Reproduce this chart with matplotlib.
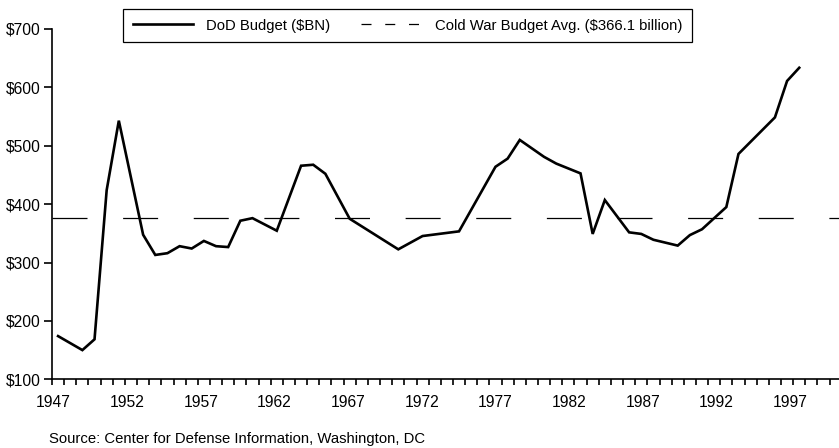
import matplotlib
matplotlib.use("Agg")
import matplotlib.pyplot as plt
from matplotlib.lines import Line2D
import numpy as np

# ---- data ----
point_index = [0, 2, 3, 4, 5, 7, 8, 9, 10, 11, 12, 13, 14, 15, 16, 18, 20, 21, 22, 24,
               28, 30, 33, 36, 37, 38, 40, 41, 43, 44, 45, 47, 48, 49, 51, 52, 53, 55,
               56, 59, 60, 61]
budget = [174, 150, 168.5, 424, 543, 347.6, 313, 316, 328, 324, 337, 328, 326.5, 371.6,
          376, 354.5, 465.8, 467.5, 452, 375, 322.6, 345.4, 353.4, 464, 478, 510, 481,
          469.5, 452.7, 349, 407, 351.7, 349, 339, 329, 347, 357, 395, 486, 548.6, 611,
          633.6]
cold_war_avg_line = 376.5
year_labels = [1947, 1952, 1957, 1962, 1967, 1972, 1977, 1982, 1987, 1992, 1997]
y_ticks = [100, 200, 300, 400, 500, 600, 700]
y_tick_labels = ["$100", "$200", "$300", "$400", "$500", "$600", "$700"]
legend_labels = ["DoD Budget ($BN)", "Cold War Budget Avg. ($366.1 billion)"]
source_text = "Source: Center for Defense Information, Washington, DC"

W, H = 839, 448
fig = plt.figure(figsize=(W / 100, H / 100), dpi=100)

# choose font size from the reference width of the source line (344 px), a bit enlarged
FAMILY = ['Liberation Sans', 'DejaVu Sans']
probe = fig.text(0, 0, source_text, family=FAMILY, size=10)
fig.canvas.draw()
wpx = probe.get_window_extent().width
probe.remove()
FS = 10 * 344.0 / wpx * 1.1
plt.rcParams['font.family'] = FAMILY
plt.rcParams['font.size'] = FS

left_px, right_px, top_px, bot_px = 52, 839, 29, 379.3
ax = fig.add_axes([left_px / W, 1 - bot_px / H, (right_px - left_px) / W, (bot_px - top_px) / H])

spacing = 12.15
xmin = -0.5
xmax = xmin + (right_px - left_px) / spacing
ax.set_xlim(xmin, xmax)
ax.set_ylim(100, 700)

ax.plot(point_index, budget, color='black', lw=1.9, solid_joinstyle='miter', zorder=3)
ax.plot([xmin, xmax], [cold_war_avg_line, cold_war_avg_line], color='black', lw=0.9,
        dashes=(28, 28.5), zorder=2)

for s in ['top', 'right']:
    ax.spines[s].set_visible(False)
for s in ['left', 'bottom']:
    ax.spines[s].set_linewidth(1.2)

# y axis
ax.set_yticks(y_ticks)
ax.set_yticklabels(y_tick_labels, family=FAMILY, size=FS * 1.05)
ax.tick_params(axis='y', length=6, width=1.2, pad=2.0)

# x axis: boundary ticks (minor) and year labels (major, no tick marks)
boundaries = np.arange(xmin, xmax, 1.0)
ax.set_xticks(boundaries, minor=True)
label_step = 73.67 / spacing
label_pos = [(53.3 - 58) / spacing + i * label_step for i in range(len(year_labels))]
ax.set_xticks(label_pos)
ax.set_xticklabels([str(y) for y in year_labels], family=FAMILY, size=FS * 1.05)
ax.tick_params(axis='x', which='major', length=0, pad=11)
ax.tick_params(axis='x', which='minor', length=4, width=1.2, direction='out')

# legend
h1 = Line2D([], [], color='black', lw=1.9)
h2 = Line2D([], [], color='black', lw=0.9, dashes=(8, 11))
hl = 43.2 / FS
leg = fig.legend([h1, h2], legend_labels, ncol=2, loc='center',
                 bbox_to_anchor=(407.5 / W, 1 - 25.5 / H), fontsize=FS,
                 frameon=True, fancybox=False, shadow=False, framealpha=1,
                 edgecolor='black', handlelength=hl, handletextpad=10.0 / FS,
                 columnspacing=22.0 / FS, borderpad=0.65, borderaxespad=0)
leg.get_frame().set_linewidth(0.9)

fig.text(49 / W, 1 - 439 / H, source_text, fontsize=FS, ha='left', va='center')

fig.savefig('out.png', dpi=100)
